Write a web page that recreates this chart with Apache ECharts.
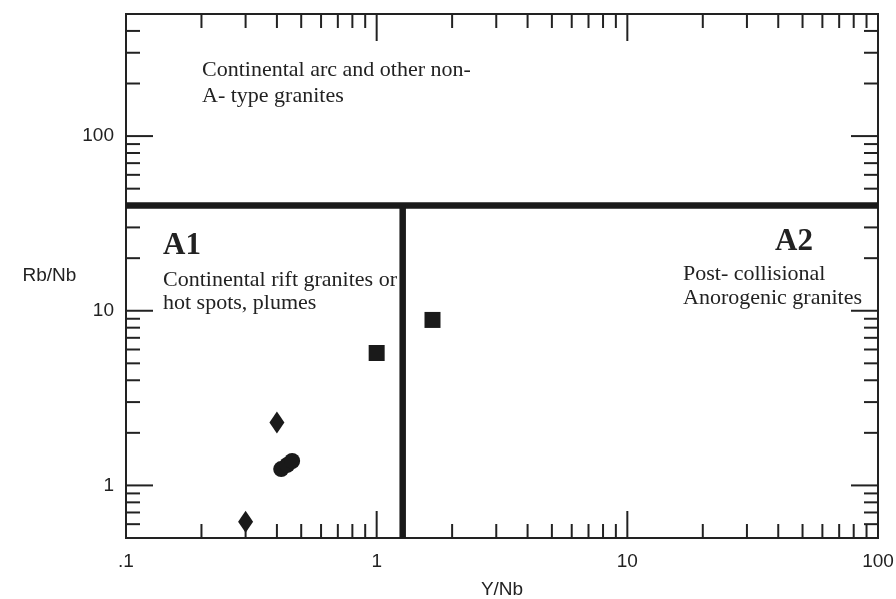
<!DOCTYPE html>
<html>
<head>
<meta charset="utf-8">
<script src="https://cdn.jsdelivr.net/npm/echarts@6/dist/echarts.min.js"></script>
<style>
  html, body { margin: 0; padding: 0; background: #fff; }
  #main { width: 896px; height: 599px; }
</style>
</head>
<body>
<div id="main"></div>
<script>
// sample points (Y/Nb, Rb/Nb)
var squareYNb = [1.0, 1.67];
var squareRbNb = [5.73, 8.86];
var diamondYNb = [0.40, 0.30];
var diamondRbNb = [2.29, 0.62];
var circleYNb = [0.416, 0.44, 0.46];
var circleRbNb = [1.24, 1.31, 1.38];

// field boundaries
var boundaryRbNb = 40;     // horizontal line
var boundaryYNb = 1.27;    // A1 / A2 split

// axes
var xRange = [0.1, 100];
var yRange = [0.5, 500];
var xMajorTicks = [1, 10];
var xMinorTicks = [0.2, 0.3, 0.4, 0.5, 0.6, 0.7, 0.8, 0.9,
  2, 3, 4, 5, 6, 7, 8, 9, 20, 30, 40, 50, 60, 70, 80, 90];
var yMajorTicks = [1, 10, 100];
var yMinorTicks = [0.6, 0.7, 0.8, 0.9, 2, 3, 4, 5, 6, 7, 8, 9,
  20, 30, 40, 50, 60, 70, 80, 90, 200, 300, 400];

var INK = '#222';
var MARK = '#1a1a1a';
var SERIF = '"Liberation Serif", "Times New Roman", serif';
var SANS = '"Liberation Sans", Arial, sans-serif';

function zip(a, b) {
  return a.map(function (v, i) { return [v, b[i]]; });
}

function tickData(minor, major) {
  return minor.map(function (v) { return [v, 14]; })
    .concat(major.map(function (v) { return [v, 27]; }));
}

function tickLine(x1, y1, x2, y2) {
  return { type: 'line', shape: { x1: x1, y1: y1, x2: x2, y2: y2 }, style: { stroke: INK, lineWidth: 2 } };
}

function renderXTick(params, api) {
  var cs = params.coordSys;
  var px = api.coord([api.value(0), 1])[0];
  var len = api.value(1);
  return {
    type: 'group',
    children: [
      tickLine(px, cs.y + cs.height, px, cs.y + cs.height - len),
      tickLine(px, cs.y, px, cs.y + len)
    ]
  };
}

function renderYTick(params, api) {
  var cs = params.coordSys;
  var py = api.coord([1, api.value(0)])[1];
  var len = api.value(1);
  return {
    type: 'group',
    children: [
      tickLine(cs.x, py, cs.x + len, py),
      tickLine(cs.x + cs.width, py, cs.x + cs.width - len, py)
    ]
  };
}

function decadeLabel(v) {
  var l = Math.log(v) / Math.LN10;
  if (Math.abs(l - Math.round(l)) > 1e-6) return '';
  if (Math.abs(v - 0.1) < 1e-9) return '.1';
  return String(Math.round(v));
}

function note(text, x, y, size, bold) {
  return {
    type: 'text', left: x, top: y,
    style: {
      text: text, fill: INK, font: (bold ? 'bold ' : '') + size + 'px ' + SERIF,
      verticalAlign: 'middle'
    }
  };
}

var chart = echarts.init(document.getElementById('main'));

var option = {
  animation: false,
  backgroundColor: '#fff',
  grid: {
    left: 126, right: 18, top: 14, bottom: 61,
    outerBoundsMode: 'none',
    show: true, borderColor: INK, borderWidth: 2
  },
  xAxis: {
    type: 'log', logBase: 10, min: xRange[0], max: xRange[1], interval: 1,
    name: 'Y/Nb', nameLocation: 'middle', nameGap: 42,
    nameTextStyle: { fontFamily: SANS, fontSize: 19, color: INK },
    axisLine: { show: false },
    axisTick: { show: false },
    splitLine: { show: false },
    axisLabel: { formatter: decadeLabel, fontFamily: SANS, fontSize: 19, color: INK, margin: 14 }
  },
  yAxis: {
    type: 'log', logBase: 10, min: yRange[0], max: yRange[1],
    name: 'Rb/Nb', nameLocation: 'middle', nameRotate: 0, nameGap: 49,
    nameTextStyle: { fontFamily: SANS, fontSize: 19, color: INK },
    axisLine: { show: false },
    axisTick: { show: false },
    splitLine: { show: false },
    axisLabel: {
      formatter: decadeLabel, fontFamily: SANS, fontSize: 19, color: INK, margin: 12,
      showMinLabel: true, showMaxLabel: true
    }
  },
  series: [
    {
      type: 'custom', name: 'xticks', silent: true,
      renderItem: renderXTick, data: tickData(xMinorTicks, xMajorTicks), z: 1
    },
    {
      type: 'custom', name: 'yticks', silent: true,
      renderItem: renderYTick, data: tickData(yMinorTicks, yMajorTicks), z: 1
    },
    {
      type: 'line', name: 'upper boundary', symbol: 'none', silent: true,
      data: [[xRange[0], boundaryRbNb], [xRange[1], boundaryRbNb]],
      lineStyle: { color: MARK, width: 6.5 }, z: 2
    },
    {
      type: 'line', name: 'A1-A2 boundary', symbol: 'none', silent: true,
      data: [[boundaryYNb, yRange[0]], [boundaryYNb, boundaryRbNb]],
      lineStyle: { color: MARK, width: 6.5 }, z: 2
    },
    {
      type: 'scatter', name: 'squares', symbol: 'rect', symbolSize: 16,
      data: zip(squareYNb, squareRbNb), itemStyle: { color: MARK, opacity: 1 }, z: 3
    },
    {
      type: 'scatter', name: 'diamonds', symbol: 'diamond', symbolSize: [15, 22],
      data: zip(diamondYNb, diamondRbNb), itemStyle: { color: MARK, opacity: 1 }, z: 3
    },
    {
      type: 'scatter', name: 'circles', symbol: 'circle', symbolSize: 16,
      data: zip(circleYNb, circleRbNb), itemStyle: { color: MARK, opacity: 1 }, z: 3
    }
  ],
  graphic: [
    note('Continental arc and other non-', 202, 59, 22),
    note('A- type granites', 202, 85, 22),
    note('A1', 163, 230, 31, true),
    note('Continental rift granites or', 163, 269, 22),
    note('hot spots, plumes', 163, 292, 22),
    note('A2', 775, 226, 31, true),
    note('Post- collisional', 683, 263, 22),
    note('Anorogenic granites', 683, 287, 22)
  ]
};

chart.setOption(option);
</script>
</body>
</html>
